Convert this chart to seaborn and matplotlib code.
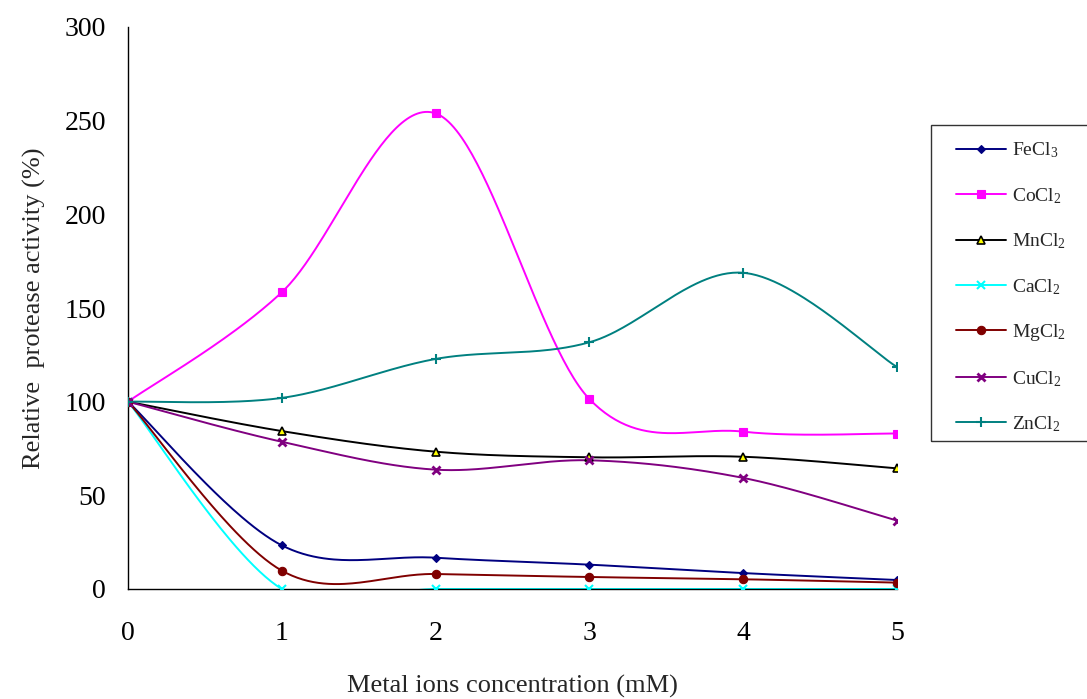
import numpy as np
import pandas as pd
import matplotlib
matplotlib.use("Agg")
import matplotlib.pyplot as plt
from matplotlib.patches import Rectangle
from matplotlib.lines import Line2D
import seaborn as sns

# Metal ion concentration (mM)
conc = [0, 1, 2, 3, 4, 5]

# Relative protease activity (%) for each salt
fecl3 = [100, 23.3, 16.7, 13.0, 8.5, 4.8]
cocl2 = [100, 158.4, 253.9, 101.4, 84.0, 83.0]
mncl2 = [100, 84.3, 73.3, 70.3, 70.6, 64.4]
cacl2 = [100, 0, 0, 0, 0, 0]
mgcl2 = [100, 9.8, 8.0, 6.4, 5.2, 3.4]
cucl2 = [100, 78.6, 63.7, 68.7, 59.3, 36.5]
zncl2 = [100, 102.0, 122.8, 131.7, 168.8, 118.5]

labels = ["FeCl$_\\mathrm{3}$", "CoCl$_\\mathrm{2}$", "MnCl$_\\mathrm{2}$", "CaCl$_\\mathrm{2}$",
          "MgCl$_\\mathrm{2}$", "CuCl$_\\mathrm{2}$", "ZnCl$_\\mathrm{2}$"]
series = [fecl3, cocl2, mncl2, cacl2, mgcl2, cucl2, zncl2]

styles = [
    dict(color="#000080", marker="D", ms=4.5, mfc="#000080", mec="#000080", mew=0.8),
    dict(color="#FF00FF", marker="s", ms=5.5, mfc="#FF00FF", mec="#FF00FF", mew=0.8),
    dict(color="#000000", marker="^", ms=6, mfc="#FFFF00", mec="#000000", mew=1.2),
    dict(color="#00FFFF", marker="x", ms=6, mfc="#00FFFF", mec="#00FFFF", mew=1.5),
    dict(color="#800000", marker="o", ms=6, mfc="#800000", mec="#800000", mew=0.8),
    dict(color="#800080", marker="x", ms=5.5, mfc="#800080", mec="#800080", mew=2.0),
    dict(color="#008080", marker="+", ms=7, mfc="#008080", mec="#008080", mew=1.5),
]


def smooth_curve(x, y, n=60):
    """Spreadsheet-style smoothed line: cubic Bezier through each point pair."""
    p = np.column_stack([x, y]).astype(float)
    m = len(p)
    out = []
    for i in range(m - 1):
        p0 = p[max(i - 1, 0)]
        p1 = p[i]
        p2 = p[i + 1]
        p3 = p[min(i + 2, m - 1)]
        c1 = p1 + (p2 - p0) / 6.0
        c2 = p2 - (p3 - p1) / 6.0
        t = np.linspace(0, 1, n)[:, None]
        seg = ((1 - t) ** 3) * p1 + 3 * ((1 - t) ** 2) * t * c1 + 3 * (1 - t) * t ** 2 * c2 + t ** 3 * p2
        out.append(seg if i == 0 else seg[1:])
    seg = np.vstack(out)
    return seg[:, 0], seg[:, 1]


sns.set_style("white")
plt.rcParams["font.family"] = ["Liberation Serif", "DejaVu Serif"]
plt.rcParams["mathtext.fontset"] = "custom"
plt.rcParams["mathtext.rm"] = "Liberation Serif"
plt.rcParams["mathtext.it"] = "Liberation Serif:italic"

fig = plt.figure(figsize=(10.87, 6.99), dpi=100)
ax = fig.add_axes([128 / 1087, 1 - 589 / 699, (897 - 128) / 1087, (589 - 27) / 699])

for name, vals, st in zip(labels, series, styles):
    xs, ys = smooth_curve(conc, vals)
    curve = pd.DataFrame({"x": xs, "y": ys})
    sns.lineplot(data=curve, x="x", y="y", sort=False, color=st["color"], lw=1.4, ax=ax,
                 estimator=None)
    pts = pd.DataFrame({"x": conc, "y": vals})
    ax.plot(pts["x"], pts["y"], ls="none", marker=st["marker"], ms=st["ms"],
            mfc=st["mfc"], mec=st["mec"], mew=st["mew"], zorder=3)

ax.set_xlim(0, 5)
ax.set_ylim(0, 300)
ax.set_xticks(conc)
ax.set_yticks(np.arange(0, 301, 50))
for s in ["top", "right"]:
    ax.spines[s].set_visible(False)
for s in ["left", "bottom"]:
    ax.spines[s].set_color("black")
    ax.spines[s].set_linewidth(1.0)
ax.tick_params(axis="both", direction="out", length=8, width=1, color="#555555",
               labelsize=20, labelcolor="black")
ax.tick_params(axis="x", pad=15)
ax.tick_params(axis="y", pad=8)
ax.set_xlabel("Metal ions concentration (mM)", fontsize=19, labelpad=21)
ax.set_ylabel("Relative  protease activity (%)", fontsize=19, labelpad=13)

# Legend with a frame running to the right edge of the figure
fig.patches.append(Rectangle((931 / 1087, 1 - 441 / 699), (1090 - 931) / 1087, (441 - 125) / 699,
                             transform=fig.transFigure, fill=False, edgecolor="#333333", lw=1.0))
handles = [Line2D([0], [0], color=st["color"], lw=1.4, marker=st["marker"], ms=st["ms"],
                  mfc=st["mfc"], mec=st["mec"], mew=st["mew"]) for st in styles]
fig.legend(handles, labels, loc="upper left", bbox_to_anchor=(948 / 1087, 1 - 133 / 699),
           frameon=False, fontsize=14, handlelength=2.6, handletextpad=0.3,
           labelspacing=1.32, borderaxespad=0)

fig.savefig("out.png", dpi=100)
